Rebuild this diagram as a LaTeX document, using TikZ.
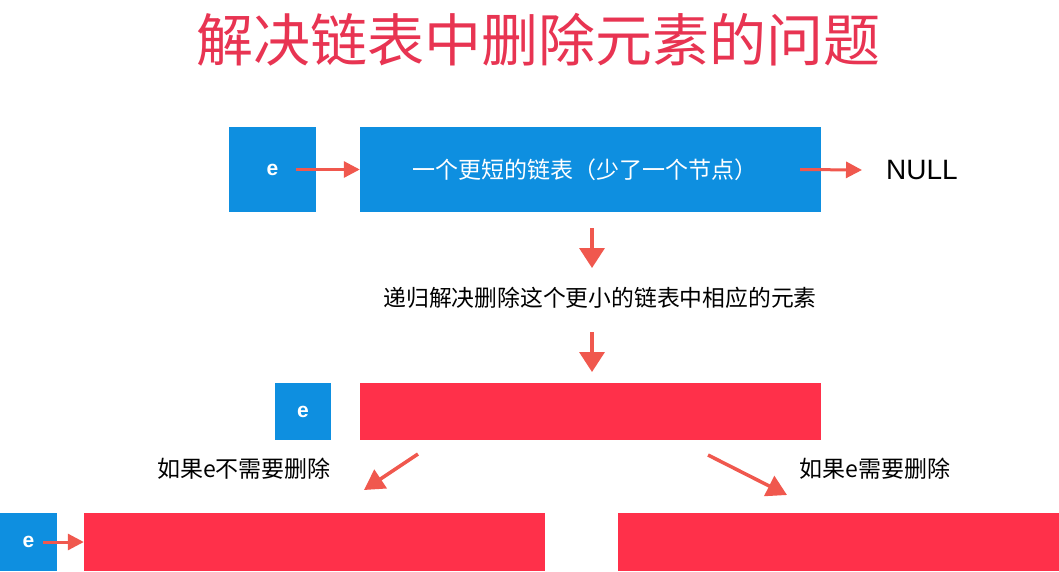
\documentclass[tikz,border=0pt]{standalone}
\usepackage{fontspec}
\setmainfont{Liberation Sans}
\newfontfamily\cjk{Noto Sans CJK SC}
\usetikzlibrary{arrows.meta,calc}
\definecolor{boxblue}{RGB}{14,143,224}
\definecolor{boxred}{RGB}{255,48,74}
\definecolor{arrred}{RGB}{240,88,78}
\definecolor{titlered}{RGB}{232,52,82}
\begin{document}
\begin{tikzpicture}[x=1pt,y=-1pt,
  bluebox/.style={fill=boxblue,draw=none,inner sep=0pt,text=white},
  redbox/.style={fill=boxred,draw=none,inner sep=0pt},
  ebox/.style={bluebox,font=\fontsize{21}{21}\selectfont\bfseries},
  harrow/.style={draw=arrred,line width=3pt,-{Triangle[length=16pt,width=16pt]}},
  varrow/.style={draw=arrred,line width=3.5pt,-{Triangle[length=20pt,width=25pt]}},
  darrow/.style={draw=arrred,line width=3.5pt,-{Triangle[length=20pt,width=22pt]}},
  lbl/.style={font=\cjk\fontsize{23}{23}\selectfont,text=black,inner sep=0pt}
]
\useasboundingbox (0,0) rectangle (1059,571);
\fill[white] (0,0) rectangle (1059,571);

% title
\node[font=\cjk\fontsize{57}{57}\selectfont,text=titlered,inner sep=0pt] (title) at (538,40) {解决链表中删除元素的问题};

% row 1
\node[ebox,minimum width=87pt,minimum height=85pt] (e1) at (272.5,169.5) {e};
\node[bluebox,minimum width=461pt,minimum height=85pt] (l1) at (590.5,169.5) {};
\node[text=white,inner sep=0pt,font=\cjk\fontsize{23}{23}\selectfont] (l1t) at (585,169.5) {一个更短的链表（少了一个节点）};
\node[font=\fontsize{28}{28}\selectfont,inner sep=0pt] (null) at (922,170) {NULL};
\draw[harrow] ($(e1.east)+(-20,0)$) -- (l1.west);
\draw[harrow] ($(l1.east)+(-21,0)$) -- ($(null.west)+(-24,0)$);

% middle
\node[font=\cjk\fontsize{22.8}{22.8}\selectfont,inner sep=0pt] (mid) at (600,298) {递归解决删除这个更小的链表中相应的元素};
\coordinate (a1s) at (592,228);
\coordinate (a1e) at (592,268);
\draw[varrow] (a1s) -- (a1e);
\coordinate (a2s) at (592,332);
\coordinate (a2e) at (592,372);
\draw[varrow] (a2s) -- (a2e);

% row 2
\node[ebox,minimum width=56pt,minimum height=57pt] (e2) at (303,411.5) {e};
\node[redbox,minimum width=461pt,minimum height=57pt] (l2) at (590.5,411.5) {};

% branches
\node[lbl] (lb1) at (244,469) {如果e不需要删除};
\node[lbl] (lb2) at (875,469) {如果e需要删除};
\coordinate (d1s) at (418,454);
\coordinate (d1e) at (364,490);
\draw[darrow] (d1s) -- (d1e);
\coordinate (d2s) at (708,455);
\coordinate (d2e) at (787,495);
\draw[darrow] (d2s) -- (d2e);

% row 3
\node[ebox,minimum width=57pt,minimum height=58pt] (e3) at (28.5,542) {e};
\node[redbox,minimum width=461pt,minimum height=58pt] (l3) at (314.5,542) {};
\node[redbox,minimum width=441pt,minimum height=58pt] (l4) at (838.5,542) {};
\draw[harrow] ($(e3.east)+(-14,0)$) -- (l3.west);
\end{tikzpicture}
\end{document}
